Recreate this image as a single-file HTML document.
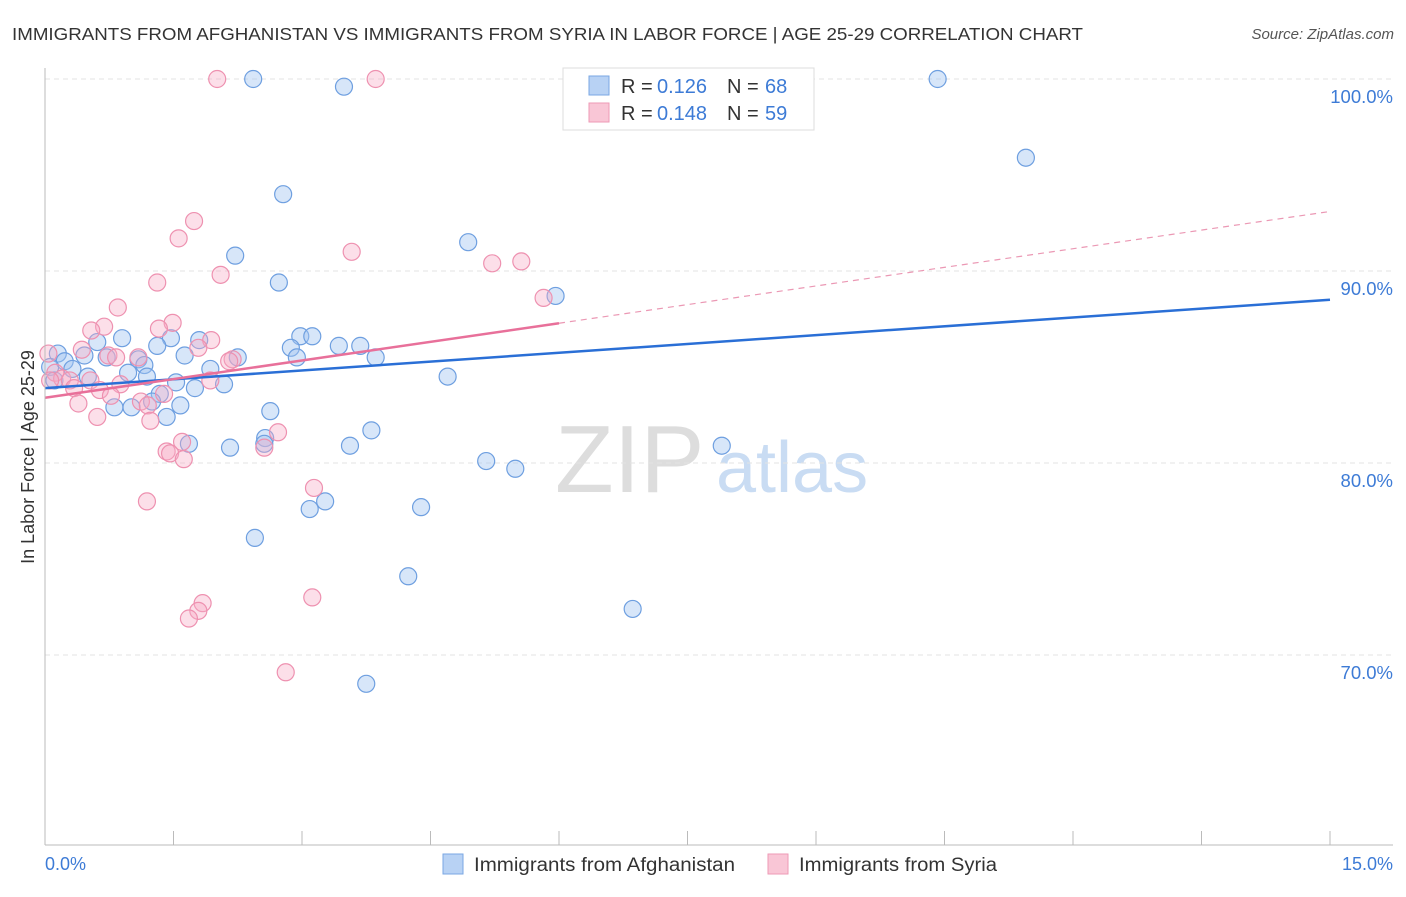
<!DOCTYPE html>
<html><head><meta charset="utf-8"><style>
body{margin:0;background:#fff;font-family:"Liberation Sans",sans-serif;}
svg text{font-family:"Liberation Sans",sans-serif;}
</style></head><body>
<svg id="c" width="1406" height="892" xmlns="http://www.w3.org/2000/svg">
<text x="12" y="40" font-size="17.5" fill="#333" textLength="1071" lengthAdjust="spacingAndGlyphs">IMMIGRANTS FROM AFGHANISTAN VS IMMIGRANTS FROM SYRIA IN LABOR FORCE | AGE 25-29 CORRELATION CHART</text>
<text x="1394" y="39" font-size="15" fill="#555" font-style="italic" text-anchor="end">Source: ZipAtlas.com</text>
<text x="555" y="492" font-size="96" fill="#ddd" font-family="Liberation Serif">ZIP</text>
<text x="716" y="492" font-size="72" fill="#c9dcf3">atlas</text>
<g id="grid"></g><g id="pts"></g><g id="lines"></g>
<line x1="45" y1="68" x2="45" y2="845" stroke="#bbb"/>
<line x1="45" y1="845" x2="1393" y2="845" stroke="#bbb"/>
<text transform="translate(34,457) rotate(-90)" font-size="18" fill="#333" text-anchor="middle">In Labor Force | Age 25-29</text>
<text x="45" y="870" font-size="18" fill="#3d7bd6">0.0%</text>
<text x="1393" y="870" font-size="18" fill="#3d7bd6" text-anchor="end">15.0%</text>
<g>
<rect x="563" y="68" width="251" height="62" fill="#fff" stroke="#ddd"/>
<rect x="589" y="76" width="20" height="19" fill="#b8d2f4" stroke="#7aa7e3"/>
<rect x="589" y="103" width="20" height="19" fill="#f9c6d6" stroke="#ee9ab6"/>
<text x="621" y="93" font-size="20" fill="#333">R = </text><text x="657" y="93" font-size="20" fill="#3d7bd6">0.126</text>
<text x="727" y="93" font-size="20" fill="#333">N = </text><text x="765" y="93" font-size="20" fill="#3d7bd6">68</text>
<text x="621" y="120" font-size="20" fill="#333">R = </text><text x="657" y="120" font-size="20" fill="#3d7bd6">0.148</text>
<text x="727" y="120" font-size="20" fill="#333">N = </text><text x="765" y="120" font-size="20" fill="#3d7bd6">59</text>
</g>
<g>
<rect x="443" y="854" width="20" height="20" fill="#b8d2f4" stroke="#7aa7e3"/>
<text x="474" y="871" font-size="19" fill="#333" textLength="261" lengthAdjust="spacingAndGlyphs">Immigrants from Afghanistan</text>
<rect x="768" y="854" width="20" height="20" fill="#f9c6d6" stroke="#ee9ab6"/>
<text x="799" y="871" font-size="19" fill="#333" textLength="198" lengthAdjust="spacingAndGlyphs">Immigrants from Syria</text>
</g>
</svg>
<script>
const yTicks=[100,90,80,70];
const yTickLabels=["100.0%","90.0%","80.0%","70.0%"];
const xTicks=[0,1.5,3,4.5,6,7.5,9,10.5,12,13.5,15];
const afgX=[2.43,3.49,10.42,11.45,2.78,4.94,2.22,2.73,5.96,0.90,1.47,1.80,1.31,0.61,2.98,3.12,2.87,3.43,3.68,0.15,0.46,0.72,1.09,1.63,2.25,2.94,3.86,0.23,1.16,0.06,0.32,0.97,1.93,1.19,0.50,1.53,4.70,0.11,2.09,1.75,1.34,0.81,1.01,1.25,1.58,1.42,2.63,3.81,2.57,2.56,1.68,2.16,3.56,7.90,5.15,5.49,3.27,3.09,4.39,2.45,4.24,6.86,3.75];
const afgY=[100,99.6,100,95.9,94.0,91.5,90.8,89.4,88.7,86.5,86.5,86.4,86.1,86.3,86.6,86.6,86.0,86.1,86.1,85.7,85.6,85.5,85.4,85.6,85.5,85.5,85.5,85.3,85.1,85.0,84.9,84.7,84.9,84.5,84.5,84.2,84.5,84.3,84.1,83.9,83.6,82.9,82.9,83.2,83.0,82.4,82.7,81.7,81.3,81.0,81.0,80.8,80.9,80.9,80.1,79.7,78.0,77.6,77.7,76.1,74.1,72.4,68.5];
const syrX=[2.01,3.86,1.74,1.56,3.58,5.22,5.56,2.05,1.31,5.82,0.85,1.49,0.69,1.33,0.54,1.94,1.79,0.43,0.04,0.74,1.09,0.83,2.19,2.15,0.12,0.20,0.29,0.06,0.53,0.88,0.64,0.34,1.93,1.39,0.77,0.39,1.12,1.20,0.61,1.23,2.72,1.60,2.56,1.42,1.46,1.62,3.14,1.19,3.12,1.84,1.79,1.68,2.81];
const syrY=[100,100,92.6,91.7,91.0,90.4,90.5,89.8,89.4,88.6,88.1,87.3,87.1,87.0,86.9,86.4,86.0,85.9,85.7,85.6,85.5,85.5,85.4,85.3,84.7,84.4,84.3,84.3,84.3,84.1,83.8,83.9,84.3,83.6,83.5,83.1,83.2,83.0,82.4,82.2,81.6,81.1,80.8,80.6,80.5,80.2,78.7,78.0,73.0,72.7,72.3,71.9,69.1];
const afgTrend=[83.9,88.5];
const syrTrend=[83.4,93.1];
const syrSolidEnd=6;
const NS="http://www.w3.org/2000/svg";
const sx=v=>45+v*(1285/15);
const sy=v=>79+(100-v)*19.2;
function mk(tag,attrs,parent){const e=document.createElementNS(NS,tag);for(const k in attrs)e.setAttribute(k,attrs[k]);document.getElementById(parent).appendChild(e);return e;}
yTicks.forEach((t,i)=>{
 const l=mk('line',{x1:45,x2:1393,y1:sy(t),y2:sy(t),stroke:'#e3e3e3','stroke-dasharray':'5,4'},'grid');
 
 
 const tx=mk('text',{x:1393,y:sy(t)+24,'font-size':18.5,fill:'#3d7bd6','text-anchor':'end'},'grid');
 tx.textContent=yTickLabels[i];
 
 
});
xTicks.forEach(t=>{
 const l=mk('line',{x1:sx(t),x2:sx(t),y1:831,y2:845,stroke:'#bbb'},'grid');
 
 
});
afgX.forEach((x,i)=>{
 const c=mk('circle',{cx:sx(x),cy:sy(afgY[i]),r:8.5,fill:'rgba(160,196,240,0.42)',stroke:'#6e9fe0','stroke-width':1.2},'pts');
 
 
});
syrX.forEach((x,i)=>{
 const c=mk('circle',{cx:sx(x),cy:sy(syrY[i]),r:8.5,fill:'rgba(246,172,196,0.38)',stroke:'#ee91b0','stroke-width':1.2},'pts');
 
 
});
const bl=mk('line',{x1:sx(0),y1:sy(afgTrend[0]),x2:sx(15),y2:sy(afgTrend[1]),stroke:'#2a6fd6','stroke-width':2.5},'lines');


const py=x=>syrTrend[0]+(syrTrend[1]-syrTrend[0])*x/15;
const pl=mk('line',{x1:sx(0),y1:sy(syrTrend[0]),x2:sx(syrSolidEnd),y2:sy(py(syrSolidEnd)),stroke:'#e8709a','stroke-width':2.5},'lines');


const pd=mk('line',{x1:sx(syrSolidEnd),y1:sy(py(syrSolidEnd)),x2:sx(15),y2:sy(syrTrend[1]),stroke:'#eb98b4','stroke-width':1.2,'stroke-dasharray':'6,5'},'lines');


</script>
</body></html>
